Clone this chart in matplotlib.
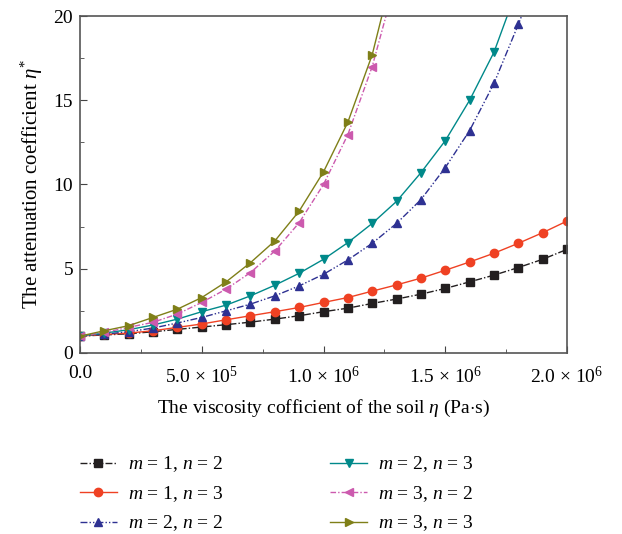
import numpy as np
import matplotlib
matplotlib.use("Agg")
import matplotlib.pyplot as plt
from matplotlib.ticker import MultipleLocator

plt.rcParams['font.family'] = ['Liberation Serif', 'DejaVu Serif']
plt.rcParams['mathtext.fontset'] = 'custom'
plt.rcParams['mathtext.rm'] = 'Liberation Serif'
plt.rcParams['mathtext.it'] = 'Liberation Serif:italic'
plt.rcParams['font.size'] = 14

# viscosity of the soil (Pa s), one point every 1e5
eta = np.arange(0, 2.1e6, 1e5)

# attenuation coefficient for each (m, n)
m1n2 = [1.0, 1.07, 1.14, 1.26, 1.40, 1.54, 1.68, 1.83, 2.01, 2.21, 2.45,
        2.66, 2.94, 3.20, 3.49, 3.83, 4.22, 4.62, 5.07, 5.56, 6.15]
m1n3 = [1.0, 1.10, 1.18, 1.32, 1.52, 1.72, 1.97, 2.21, 2.45, 2.70, 3.00,
        3.29, 3.67, 4.04, 4.44, 4.91, 5.40, 5.92, 6.51, 7.14, 7.83]
m2n2 = [1.0, 1.12, 1.26, 1.48, 1.78, 2.11, 2.50, 2.90, 3.39, 3.98, 4.67,
        5.52, 6.51, 7.69, 9.10, 11.0, 13.2, 16.0, 19.5, 23.2]
m2n3 = [1.0, 1.18, 1.38, 1.66, 2.01, 2.45, 2.84, 3.39, 4.02, 4.73, 5.56,
        6.55, 7.69, 9.00, 10.7, 12.6, 15.0, 17.85, 21.8]
m3n2 = [1.0, 1.22, 1.52, 1.82, 2.31, 3.00, 3.79, 4.77, 6.05, 7.73, 10.0,
        12.96, 17.0, 22.3]
m3n3 = [1.0, 1.32, 1.62, 2.11, 2.60, 3.29, 4.22, 5.36, 6.65, 8.42, 10.75,
        13.7, 17.7, 23.5]

labels = ['$m$ = 1, $n$ = 2', '$m$ = 1, $n$ = 3', '$m$ = 2, $n$ = 2',
          '$m$ = 2, $n$ = 3', '$m$ = 3, $n$ = 2', '$m$ = 3, $n$ = 3']
series = [m1n2, m1n3, m2n2, m2n3, m3n2, m3n3]

x_ticks = [0, 5e5, 1e6, 1.5e6, 2e6]
x_ticklabels = ['0.0', r'5.0 $\times$ 10$^5$', r'1.0 $\times$ 10$^6$',
                r'1.5 $\times$ 10$^6$', r'2.0 $\times$ 10$^6$']
y_ticks = [0, 5, 10, 15, 20]

colors = ['#231f20', '#ef4123', '#2e3192', '#00898a', '#cc5aae', '#7f7f18']
markers = ['s', 'o', '^', 'v', '<', '>']
dashes = [(5, 1.5, 1, 1.5), None, (5, 1.5, 1, 1.5, 1, 1.5), None, (4, 1.5, 1, 1.5), None]

fig = plt.figure(figsize=(6.22, 5.34), dpi=100)
ax = fig.add_axes([0.1286, 0.339, 0.783, 0.631])

for vals, lab, c, mk, d in zip(series, labels, colors, markers, dashes):
    line, = ax.plot(eta[:len(vals)], vals, color=c, marker=mk, markersize=6,
                    linewidth=1.0, label=lab)
    if d is not None:
        line.set_dashes(d)

ax.set_xlim(0, 2e6)
ax.set_ylim(0, 20)
ax.set_xticks(x_ticks)
ax.set_xticklabels(x_ticklabels)
ax.set_yticks(y_ticks)
ax.xaxis.set_minor_locator(MultipleLocator(2.5e5))
ax.yaxis.set_minor_locator(MultipleLocator(2.5))
ax.tick_params(which='both', direction='in', top=False, right=False,
               labelsize=14, color='#444444')
ax.tick_params(which='major', length=5)
ax.tick_params(which='minor', length=3)
ax.tick_params(axis='x', pad=9)
ax.tick_params(axis='y', pad=5)
for s in ax.spines.values():
    s.set_color('#555555')
    s.set_linewidth(1.2)

ax.set_xlabel(r'The viscosity cofficient of the soil $\eta$ (Pa$\cdot$s)', fontsize=14, labelpad=8)
ax.set_ylabel(r'The attenuation coefficient $\eta^{*}$', fontsize=15, labelpad=6)

fig.legend(loc='upper left', bbox_to_anchor=(0.1286, 0.149), ncol=2, frameon=False,
           fontsize=14, handlelength=1.9, handletextpad=0.55, columnspacing=5.5,
           labelspacing=0.5, borderpad=0, borderaxespad=0)

fig.savefig('out.png', dpi=100)
